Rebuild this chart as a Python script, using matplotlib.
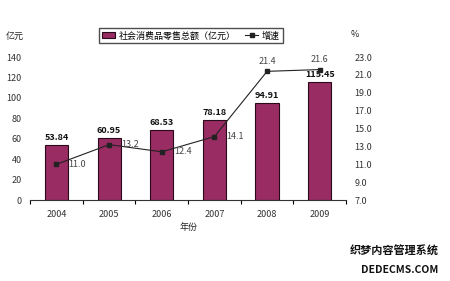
import matplotlib.pyplot as plt
import numpy as np

plt.rcParams['font.family'] = ['Noto Sans CJK SC', 'DejaVu Sans']

years = ['2004', '2005', '2006', '2007', '2008', '2009']
sales = [53.84, 60.95, 68.53, 78.18, 94.91, 115.45]
growth = [11.0, 13.2, 12.4, 14.1, 21.4, 21.6]

fig = plt.figure(figsize=(4.5, 2.81), dpi=100)
ax = fig.add_axes([0.067, 0.288, 0.702, 0.509])
x = np.arange(len(years))

bars = ax.bar(x, sales, width=0.44, color='#982c63', edgecolor='#2a0a1a',
              linewidth=0.8, label='社会消费品零售总额（亿元）', zorder=2)
for xi, v in zip(x, sales):
    ax.text(xi, v + 3, f'{v:.2f}', ha='center', va='bottom', fontsize=6.5,
            fontweight='bold', color='#111111')

ax.set_xlim(-0.5, len(years) - 0.5)
ax.set_ylim(0, 140)
ax.set_yticks(range(0, 141, 20))
ax.set_xticks(x)
ax.set_xticklabels(years)
ax.set_xticks(np.arange(-0.5, len(years)), minor=True)
ax.tick_params(axis='x', which='major', length=0, labelsize=6.5, pad=7, colors='#333333')
ax.tick_params(axis='x', which='minor', length=3, width=0.8, direction='out')
ax.tick_params(axis='y', length=0, labelsize=6.5, pad=6, colors='#333333')
for s in ['left', 'right', 'top']:
    ax.spines[s].set_visible(False)
ax.spines['bottom'].set_color('#333333')
ax.spines['bottom'].set_linewidth(0.8)
ax.patch.set_alpha(0)

ax2 = ax.twinx()
line, = ax2.plot(x, growth, color='#222222', linewidth=0.8, marker='s',
                 markersize=3, label='增速', zorder=3)
ax2.set_ylim(7, 23)
ax2.set_yticks(np.arange(7, 23.1, 2))
ax2.set_yticklabels([f'{t:.1f}' for t in np.arange(7, 23.1, 2)])
ax2.tick_params(axis='y', length=0, labelsize=6.5, pad=6, colors='#333333')
for s in ['left', 'right', 'top', 'bottom']:
    ax2.spines[s].set_visible(False)
for xi, v in zip(x, growth):
    if v > 20:
        ax2.text(xi, v + 0.6, f'{v:.1f}', ha='center', va='bottom', fontsize=6.5, color='#444444')
    else:
        ax2.text(xi + 0.23, v, f'{v:.1f}', ha='left', va='center', fontsize=6.5, color='#444444')

fig.text(0.012, 0.86, '亿元', fontsize=6.5, color='#222222')
fig.text(0.78, 0.87, '%', fontsize=6.5, color='#222222')
fig.text(0.40, 0.18, '年份', fontsize=6.5, color='#222222')

fig.legend([bars, line], ['社会消费品零售总额（亿元）', '增速'], loc='upper left',
           bbox_to_anchor=(0.21, 0.915), ncol=2, fontsize=6.5, frameon=True,
           fancybox=False, edgecolor='#222222', handlelength=1.5,
           borderpad=0.3, columnspacing=1.0, handletextpad=0.4)

fig.text(0.975, 0.095, '织梦内容管理系统', fontsize=8, fontweight='bold',
         ha='right', color='#111111')
fig.text(0.975, 0.03, 'DEDECMS.COM', fontsize=7.5, fontweight='bold',
         ha='right', color='#111111')

fig.savefig('out.png', dpi=100)
